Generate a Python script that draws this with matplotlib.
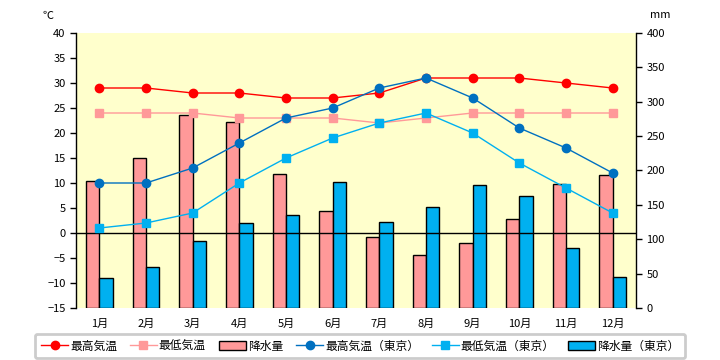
import numpy as np
import matplotlib
matplotlib.use("Agg")
import matplotlib.pyplot as plt
from matplotlib.lines import Line2D
from matplotlib.patches import Patch

plt.rcParams['font.family'] = ['Noto Sans CJK JP', 'DejaVu Sans']

months = ["1月", "2月", "3月", "4月", "5月", "6月", "7月", "8月", "9月", "10月", "11月", "12月"]
# local city
max_temp = [29, 29, 28, 28, 27, 27, 28, 31, 31, 31, 30, 29]
min_temp = [24, 24, 24, 23, 23, 23, 22, 23, 24, 24, 24, 24]
rain = [185, 218, 281, 270, 195, 141, 103, 77, 95, 129, 181, 194]
# Tokyo
tokyo_max = [10, 10, 13, 18, 23, 25, 29, 31, 27, 21, 17, 12]
tokyo_min = [1, 2, 4, 10, 15, 19, 22, 24, 20, 14, 9, 4]
tokyo_rain = [43, 59, 98, 123, 136, 184, 125, 147, 179, 163, 88, 45]

fig = plt.figure(figsize=(7.2, 3.6), dpi=100)
ax = fig.add_axes([76/720, 1-308/360, 560/720, 275/360])
ax2 = ax.twinx()

# bars on the mm axis, behind the lines
ax2.set_zorder(0)
ax.set_zorder(1)
ax.patch.set_visible(False)
ax2.patch.set_visible(True)
ax2.set_facecolor('#FFFFCC')

x = np.arange(len(months))
w = 0.285
ax2.bar(x - w/2, rain, w, color='#FF9999', edgecolor='black', linewidth=1)
ax2.bar(x + w/2, tokyo_rain, w, color='#00B0F0', edgecolor='black', linewidth=1)
ax2.set_ylim(0, 400)
ax2.set_yticks(range(0, 401, 50))

ax.axhline(0, color='black', linewidth=1, zorder=1)
ax.plot(x, max_temp, color='#FF0000', marker='o', markersize=6, linewidth=1)
ax.plot(x, min_temp, color='#FF9999', marker='s', markersize=6, linewidth=1)
ax.plot(x, tokyo_max, color='#0070C0', marker='o', markersize=6, linewidth=1)
ax.plot(x, tokyo_min, color='#00B0F0', marker='s', markersize=6, linewidth=1)
ax.set_ylim(-15, 40)
ax.set_yticks(range(-15, 41, 5))
ax.set_xlim(-0.5, 11.5)
ax.set_xticks(x)
ax.set_xticklabels(months)

for a in (ax, ax2):
    a.spines['top'].set_visible(False)
    a.spines['bottom'].set_visible(False)
    a.tick_params(labelsize=8, length=4, width=1)
ax.tick_params(axis='x', length=0, pad=8)
ax.spines['right'].set_visible(False)
ax2.spines['left'].set_visible(False)
ax.spines['left'].set_linewidth(1)
ax2.spines['right'].set_linewidth(1)

fig.text(48/720, 1-16/360, "℃", fontsize=8, ha='center', va='center')
fig.text(660/720, 1-15/360, "mm", fontsize=8, ha='center', va='center')

handles = [
    Line2D([], [], color='#FF0000', marker='o', markersize=6, linewidth=1),
    Line2D([], [], color='#FF9999', marker='s', markersize=6, linewidth=1),
    Patch(facecolor='#FF9999', edgecolor='black'),
    Line2D([], [], color='#0070C0', marker='o', markersize=6, linewidth=1),
    Line2D([], [], color='#00B0F0', marker='s', markersize=6, linewidth=1),
    Patch(facecolor='#00B0F0', edgecolor='black'),
]
labels = ["最高気温", "最低気温", "降水量", "最高気温（東京）", "最低気温（東京）", "降水量（東京）"]
leg = fig.legend(handles, labels, loc='center', bbox_to_anchor=(0.5, 1-346/360), ncol=6,
                 fontsize=8.5, frameon=True, fancybox=True, handlelength=2.3,
                 columnspacing=1.1, handletextpad=0.15, borderpad=0.5)
leg.get_frame().set_edgecolor('#C0C0C0')
leg.get_frame().set_linewidth(2)

fig.savefig("out.png", dpi=100)
